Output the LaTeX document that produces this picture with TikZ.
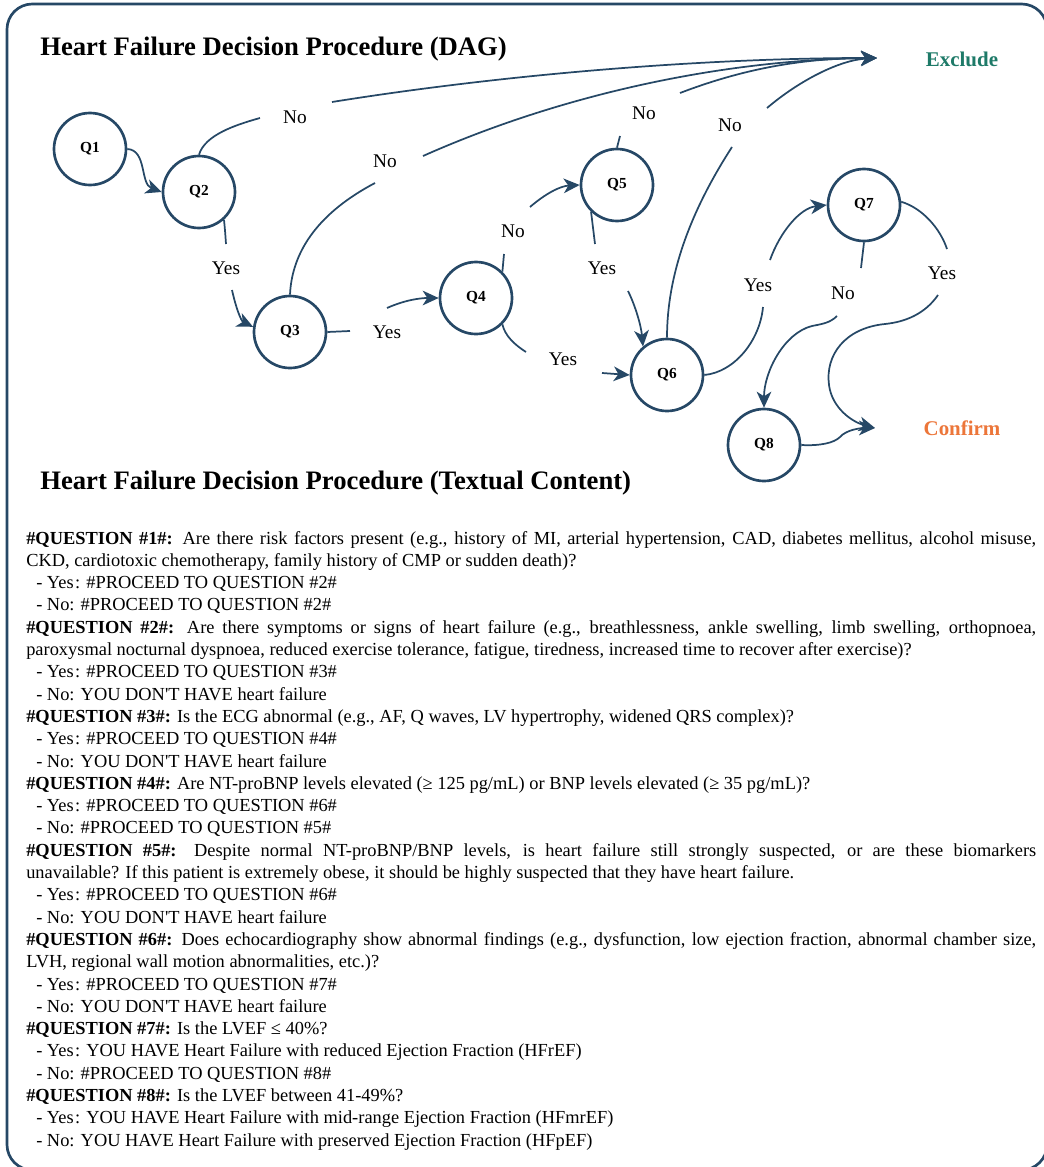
\documentclass[tikz,border=0pt]{standalone}
\usepackage{fontspec}
\newfontfamily\tnr{Liberation Serif}
\usetikzlibrary{arrows.meta,calc}
\definecolor{navy}{RGB}{38,72,102}
\definecolor{exgreen}{RGB}{30,122,104}
\definecolor{cforange}{RGB}{236,118,58}
\begin{document}
\begin{tikzpicture}[x=0.75pt,y=-0.75pt,
  qnode/.style={circle,draw=navy,line width=2pt,minimum size=54pt,inner sep=0pt,font=\tnr\bfseries\fontsize{11.5}{13}\selectfont},
  lbl/.style={inner sep=0pt,font=\tnr\fontsize{14.5}{17}\selectfont},
  conn/.style={draw=navy,line width=1.3pt},
  arr/.style={conn,-{Stealth[length=12pt,width=11pt,inset=3.5pt]}},
  heading/.style={anchor=base west,inner sep=0pt,font=\tnr\bfseries\fontsize{20}{24}\selectfont},
  outcome/.style={inner sep=0pt,font=\tnr\bfseries\fontsize{15.7}{18}\selectfont},
  body/.style={anchor=base west,inner sep=0pt,font=\tnr\fontsize{13.8}{16}\selectfont},
]
\useasboundingbox (0,0) rectangle (1043,1167);
% frame
\draw[navy,line width=2pt,rounded corners=19pt] (7,4) rectangle (1047,1170);

% headings
\node[heading] (h1) at (40,55) {Heart Failure Decision Procedure (DAG)};
\node[heading] (h2) at (40,489) {Heart Failure Decision Procedure (Textual Content)};

% question nodes
\node[qnode] (Q1) at (90,149) {Q1};
\node[qnode] (Q2) at (199,192) {Q2};
\node[qnode] (Q3) at (290,332) {Q3};
\node[qnode] (Q4) at (476,298) {Q4};
\node[qnode] (Q5) at (617,185) {Q5};
\node[qnode] (Q6) at (667,375) {Q6};
\node[qnode] (Q7) at (864,205) {Q7};
\node[qnode] (Q8) at (764,445) {Q8};

% outcomes
\node[outcome,text=exgreen] (exc) at (962,59) {Exclude};
\node[outcome,text=cforange] (cnf) at (962,428) {Confirm};
\coordinate (ex) at (877,58);
\coordinate (cf) at (875,428);

% edge labels
\node[lbl] (l2) at (295,117) {No};
\node[lbl] (l3) at (385,161) {No};
\node[lbl] (l4) at (226,268) {Yes};
\node[lbl] (l5) at (387,332) {Yes};
\node[lbl] (l6) at (513,231) {No};
\node[lbl] (l7) at (563,359) {Yes};
\node[lbl] (l8) at (644,113) {No};
\node[lbl] (l9) at (602,268) {Yes};
\node[lbl] (l10) at (730,125) {No};
\node[lbl] (l11) at (758,285) {Yes};
\node[lbl] (l12) at (843,293) {No};
\node[lbl] (l13) at (942,273) {Yes};

% E1 Q1 -> Q2
\draw[arr] (Q1.east) .. controls (147,150) and (140,184) .. (Q2.west);
% E2 Q2 -> No -> Exclude
\draw[conn] (Q2.north) .. controls (205,135) and (235,125) .. ($(l2)+(-35,1)$);
\draw[arr] ($(l2)+(37,-15)$) .. controls (500,75) and (700,58) .. (ex);
% E3 Q3 -> No -> Exclude
\draw[conn] (Q3.north) .. controls (292,250) and (320,212) .. ($(l3)+(-10,22)$);
\draw[arr] ($(l3)+(38,-5)$) .. controls (560,95) and (720,60) .. (ex);
% E4 Q2 -> Yes -> Q3
\draw[conn] (Q2.-48) .. controls (225,230) .. ($(l4)+(0,-24)$);
\draw[arr] ($(l4)+(6,22)$) .. controls (236,308) and (241,321) .. (Q3.172);
% E5 Q3 -> Yes -> Q4
\draw[conn] (Q3.east) -- ($(l5)+(-37,-1)$);
\draw[arr] ($(l5)+(0,-24)$) .. controls (405,300) and (420,298) .. (Q4.west);
% E6 Q4 -> No -> Q5
\draw[conn] (Q4.45) .. controls (503,262) .. ($(l6)+(-9,23)$);
\draw[arr] ($(l6)+(17,-24)$) .. controls (545,194) and (560,186) .. (Q5.west);
% E7 Q4 -> Yes -> Q6
\draw[conn] (Q4.-45) .. controls (505,336) and (515,345) .. ($(l7)+(-37,-7)$);
\draw[arr] ($(l7)+(39,14)$) -- (Q6.west);
% E8 Q5 -> No -> Exclude
\draw[conn] (Q5.north) -- ($(l8)+(-24,23)$);
\draw[arr] ($(l8)+(36,-20)$) .. controls (740,70) and (800,58) .. (ex);
% E9 Q5 -> Yes -> Q6
\draw[conn] (Q5.-134) .. controls (594,228) .. ($(l9)+(-7,-24)$);
\draw[arr] ($(l9)+(26,23)$) .. controls (635,305) and (641,325) .. (Q6.130);
% E10 Q6 -> No -> Exclude
\draw[conn] (Q6.north) .. controls (667,275) and (690,212) .. ($(l10)+(2,22)$);
\draw[arr] ($(l10)+(37,-17)$) .. controls (800,80) and (840,60) .. (ex);
% E11 Q6 -> Yes -> Q7
\draw[conn] (Q6.east) .. controls (735,372) and (760,340) .. ($(l11)+(5,22)$);
\draw[arr] ($(l11)+(12,-25)$) .. controls (780,232) and (800,208) .. (Q7.west);
% E12 Q7 -> No -> Q8
\draw[conn] (Q7.south) -- ($(l12)+(18,-25)$);
\draw[arr] ($(l12)+(-6,23)$) .. controls (830,323) and (822,324) .. (812,326)
   .. controls (784,333) and (764,372) .. (Q8.north);
% E13 Q7 -> Yes -> Confirm
\draw[conn] (Q7.5) .. controls (922,208) and (940,228) .. ($(l13)+(5,-24)$);
\draw[arr] ($(l13)+(-4,22)$) .. controls (925,314) and (905,322) .. (885,324)
   .. controls (845,328) and (825,355) .. (829,385)
   .. controls (832,408) and (852,422) .. (cf);
% E14 Q8 -> Confirm
\draw[arr] (Q8.east) .. controls (820,446) and (834,443) .. (840,437)
   .. controls (846,430) and (860,428) .. (cf);

% textual content
\node[body] (t1) at (26,544) {\makebox[757.5pt][s]{\textbf{\#QUESTION \#1\#:} Are there risk factors present (e.g., history of MI, arterial hypertension, CAD, diabetes mellitus, alcohol misuse,}};
\node[body] (t2) at (26,566.3) {CKD, cardiotoxic chemotherapy, family history of CMP or sudden death)?};
\node[body] (t3) at (36,588.6) {- Yes\kern1pt: \#PROCEED TO QUESTION \#2\#};
\node[body] (t4) at (36,610.9) {- No: \#PROCEED TO QUESTION \#2\#};
\node[body] (t5) at (26,633.2) {\makebox[757.5pt][s]{\textbf{\#QUESTION \#2\#:} Are there symptoms or signs of heart failure (e.g., breathlessness, ankle swelling, limb swelling, orthopnoea,}};
\node[body] (t6) at (26,655.5) {paroxysmal nocturnal dyspnoea, reduced exercise tolerance, fatigue, tiredness, increased time to recover after exercise)?};
\node[body] (t7) at (36,677.8) {- Yes\kern1pt: \#PROCEED TO QUESTION \#3\#};
\node[body] (t8) at (36,700.1) {- No: YOU DON'T HAVE heart failure};
\node[body] (t9) at (26,722.4) {\textbf{\#QUESTION \#3\#:} Is the ECG abnormal (e.g., AF, Q waves, LV hypertrophy, widened QRS complex)?};
\node[body] (t10) at (36,744.7) {- Yes\kern1pt: \#PROCEED TO QUESTION \#4\#};
\node[body] (t11) at (36,767.0) {- No: YOU DON'T HAVE heart failure};
\node[body] (t12) at (26,789.3) {\textbf{\#QUESTION \#4\#:} Are NT-proBNP levels elevated (≥ 125 pg/mL) or BNP levels elevated (≥ 35 pg/mL)?};
\node[body] (t13) at (36,811.6) {- Yes\kern1pt: \#PROCEED TO QUESTION \#6\#};
\node[body] (t14) at (36,833.9) {- No: \#PROCEED TO QUESTION \#5\#};
\node[body] (t15) at (26,856.2) {\makebox[757.5pt][s]{\textbf{\#QUESTION \#5\#:} Despite normal NT-proBNP/BNP levels, is heart failure still strongly suspected, or are these biomarkers}};
\node[body] (t16) at (26,878.5) {unavailable? If this patient is extremely obese, it should be highly suspected that they have heart failure.};
\node[body] (t17) at (36,900.8) {- Yes\kern1pt: \#PROCEED TO QUESTION \#6\#};
\node[body] (t18) at (36,923.1) {- No: YOU DON'T HAVE heart failure};
\node[body] (t19) at (26,945.4) {\makebox[757.5pt][s]{\textbf{\#QUESTION \#6\#:} Does echocardiography show abnormal findings (e.g., dysfunction, low ejection fraction, abnormal chamber size,}};
\node[body] (t20) at (26,967.7) {LVH, regional wall motion abnormalities, etc.)?};
\node[body] (t21) at (36,990.0) {- Yes\kern1pt: \#PROCEED TO QUESTION \#7\#};
\node[body] (t22) at (36,1012.3) {- No: YOU DON'T HAVE heart failure};
\node[body] (t23) at (26,1034.6) {\textbf{\#QUESTION \#7\#:} Is the LVEF ≤ 40\%?};
\node[body] (t24) at (36,1056.9) {- Yes\kern1pt: YOU HAVE Heart Failure with reduced Ejection Fraction (HFrEF)};
\node[body] (t25) at (36,1079.2) {- No: \#PROCEED TO QUESTION \#8\#};
\node[body] (t26) at (26,1101.5) {\textbf{\#QUESTION \#8\#:} Is the LVEF between 41-49\%?};
\node[body] (t27) at (36,1123.8) {- Yes\kern1pt: YOU HAVE Heart Failure with mid-range Ejection Fraction (HFmrEF)};
\node[body] (t28) at (36,1146.1) {- No: YOU HAVE Heart Failure with preserved Ejection Fraction (HFpEF)};
\end{tikzpicture}
\end{document}
